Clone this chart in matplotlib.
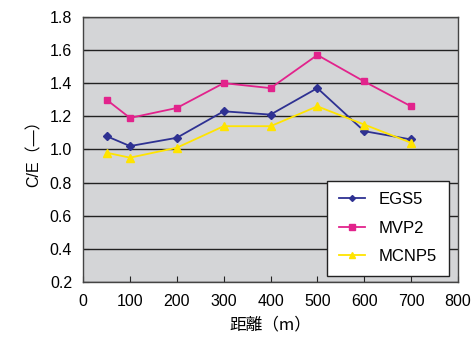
import matplotlib

matplotlib.use("Agg")
import matplotlib.pyplot as plt  # noqa: E402

plt.rcParams["font.family"] = ["Liberation Sans", "Noto Sans CJK JP", "DejaVu Sans"]

distance = [50, 100, 200, 300, 400, 500, 600, 700]
egs5 = [1.08, 1.02, 1.07, 1.23, 1.21, 1.37, 1.11, 1.06]
mvp2 = [1.30, 1.19, 1.25, 1.40, 1.37, 1.57, 1.41, 1.26]
mcnp5 = [0.98, 0.95, 1.01, 1.14, 1.14, 1.26, 1.15, 1.04]

x_ticks = [0, 100, 200, 300, 400, 500, 600, 700, 800]
y_ticks = [0.2, 0.4, 0.6, 0.8, 1.0, 1.2, 1.4, 1.6, 1.8]

fig = plt.figure(figsize=(4.75, 3.45), dpi=100)
ax = fig.add_axes([0.175, 0.183, 0.789, 0.768])
ax.set_facecolor("#d4d5d7")

ax.plot(distance, egs5, color="#2e3192", marker="D", markersize=4, lw=1.3, label="EGS5")
ax.plot(distance, mvp2, color="#e2238c", marker="s", markersize=5, lw=1.3, label="MVP2")
ax.plot(distance, mcnp5, color="#ffe400", marker="^", markersize=6, lw=1.3, label="MCNP5")

ax.set_xlim(0, 800)
ax.set_ylim(0.2, 1.8)
ax.set_xticks(x_ticks)
ax.set_yticks(y_ticks)
ax.set_yticklabels([f"{v:.1f}" for v in y_ticks])
ax.yaxis.grid(True, color="#222222", lw=1.0)
ax.set_axisbelow(True)
ax.tick_params(axis="both", direction="in", length=4, labelsize=11.5, pad=8, color="#222222")
ax.tick_params(axis="x", pad=9)
for sp in ax.spines.values():
    sp.set_color("#444444")
    sp.set_linewidth(1.0)

ax.set_xlabel("距離（m）", fontsize=12, labelpad=5,
              family=["Noto Sans CJK JP", "DejaVu Sans"])
ax.set_ylabel("C/E（—）", fontsize=11.5, labelpad=6,
              family=["Liberation Sans", "Noto Sans CJK JP"])

leg = ax.legend(loc="lower right", bbox_to_anchor=(0.975, 0.024), fontsize=12,
                frameon=True, fancybox=False, edgecolor="#222222", facecolor="white",
                framealpha=1, handlelength=1.6, labelspacing=0.8, borderpad=0.7,
                handletextpad=0.8, borderaxespad=0, markerscale=0.75)
leg.get_frame().set_linewidth(1.0)

fig.savefig("out.png", dpi=100)
